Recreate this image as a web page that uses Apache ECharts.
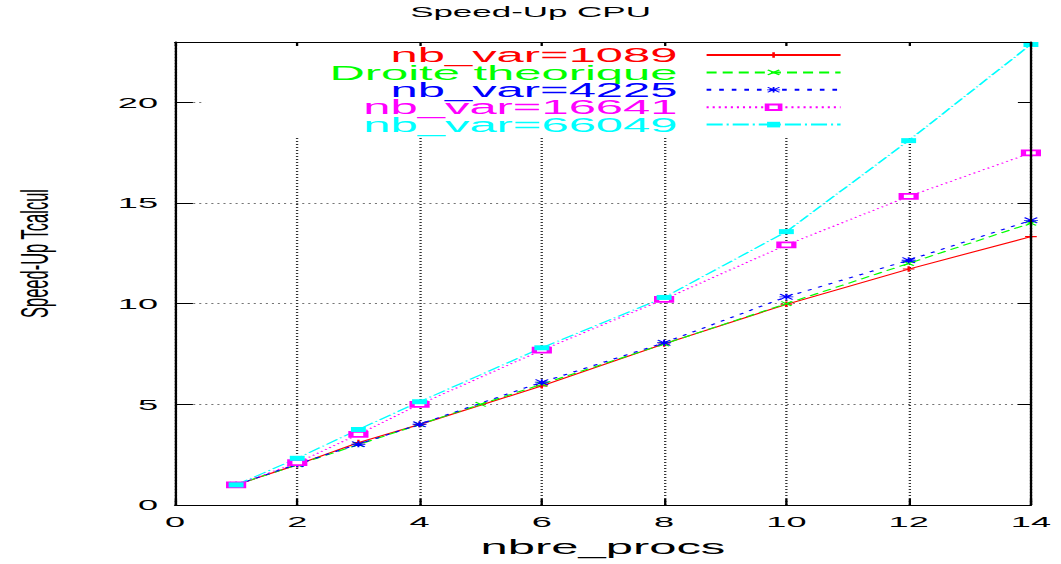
<!DOCTYPE html>
<html>
<head>
<meta charset="utf-8">
<title>Speed-Up CPU</title>
<script src="https://cdn.jsdelivr.net/npm/echarts@6/dist/echarts.min.js"></script>
<style>
  html, body { margin: 0; padding: 0; background: #fff; overflow: hidden; }
  /* the plot is laid out narrow and widened, like the stretched gnuplot output */
  #chart { width: 455.36px; height: 564px; transform: scaleX(2.33); transform-origin: 0 0; }
</style>
</head>
<body>
<div id="chart"></div>
<script>
// processor counts measured
const procs = [1, 2, 3, 4, 6, 8, 10, 12, 14];
// points of the ideal (linear) speed-up line
const idealProcs = [1, 2, 3, 4, 5, 6, 8, 10, 12, 14];
const idealSpeedUp = [1, 2, 3, 4, 5, 6, 8, 10, 12, 14];
// measured speed-up per problem size
const speedUp1089  = [1, 2.0, 3.1, 4.0, 5.92, 8.0, 9.97, 11.72, 13.33];
const speedUp4225  = [1, 2.03, 3.02, 4.01, 6.1, 8.06, 10.34, 12.16, 14.14];
const speedUp16641 = [1, 2.1, 3.51, 5.0, 7.69, 10.22, 12.92, 15.33, 17.49];
const speedUp66049 = [1, 2.32, 3.75, 5.13, 7.81, 10.31, 13.58, 18.1, 22.88];
const seriesNames = ['nb_var=1089', 'Droite theorique', 'nb_var=4225', 'nb_var=16641', 'nb_var=66049'];
const xTicks = [0, 2, 4, 6, 8, 10, 12, 14];
const yTicks = [0, 5, 10, 15, 20];

const FONT = 'Liberation Sans, Arial, Helvetica, sans-serif';
const colors = ['#ff0000', '#00ff00', '#0000ff', '#ff00ff', '#00ffff'];

// gnuplot-like point glyphs
const PLUS = 'path://M0,4H10V6H0Z M4,0H6V10H4Z';
const CROSS = 'path://M0,1.2L1.2,0L10,8.8L8.8,10Z M8.8,0L10,1.2L1.2,10L0,8.8Z';
const STAR = 'path://M0,4.3H10V5.7H0Z M4.3,0H5.7V10H4.3Z M0,1L1,0L10,9L9,10Z M9,0L10,1L1,10L0,9Z';

function pairs(xs, ys) { return xs.map((x, i) => [x, ys[i]]); }

const chart = echarts.init(document.getElementById('chart'), null, { renderer: 'svg', width: 455.36, height: 564 });

chart.setOption({
  animation: false,
  backgroundColor: '#ffffff',
  title: {
    text: 'Speed-Up CPU',
    left: 'center',
    top: 4,
    padding: 0,
    textStyle: { fontFamily: FONT, fontSize: 15, fontWeight: 'normal', color: '#000' }
  },
  legend: {
    orient: 'vertical',
    align: 'right',
    right: 93.6,
    top: 44.5,
    padding: 0,
    itemWidth: 57.5,
    itemHeight: 7,
    itemGap: -3.6,
    selectedMode: false,
    textStyle: { fontFamily: FONT, fontSize: 21, padding: [0, 7.5, 0, 0] },
    data: seriesNames.map((n, i) => ({ name: n, textStyle: { color: colors[i] } }))
  },
  grid: { left: 75.1, right: 12.9, top: 42, bottom: 59, outerBoundsMode: 'none' },
  graphic: [{
    // opaque key area
    type: 'rect',
    z: 1,
    shape: { x: 88, y: 43, width: 354.5, height: 93 },
    style: { fill: '#ffffff' },
    silent: true
  }],
  xAxis: [{
    type: 'value',
    min: xTicks[0],
    max: xTicks[xTicks.length - 1],
    interval: 2,
    name: 'nbre_procs',
    nameLocation: 'middle',
    nameGap: 31,
    nameTextStyle: { fontFamily: FONT, fontSize: 21, color: '#000' },
    axisLine: { show: true, onZero: false, lineStyle: { color: '#000', width: 1 } },
    axisTick: { show: true, inside: true, length: 6, lineStyle: { color: '#000' } },
    axisLabel: { margin: 9, fontFamily: FONT, fontSize: 15.5, color: '#000' },
    splitLine: { show: true, lineStyle: { color: '#333', type: [1, 2], width: 1 } }
  }, {
    type: 'value',
    position: 'top',
    min: xTicks[0],
    max: xTicks[xTicks.length - 1],
    interval: 2,
    z: 5,
    axisLine: { show: true, onZero: false, lineStyle: { color: '#000', width: 1 } },
    axisTick: { show: true, inside: true, length: 4, lineStyle: { color: '#000' } },
    axisLabel: { show: false },
    splitLine: { show: false }
  }],
  yAxis: [{
    type: 'value',
    min: 0,
    max: 23,
    interval: 5,
    name: 'Speed-Up Tcalcul',
    nameLocation: 'middle',
    nameGap: 52,
    nameTextStyle: { fontFamily: FONT, fontSize: 16.5, color: '#000', padding: [0, 0, 0, 40] },
    axisLine: { show: true, onZero: false, lineStyle: { color: '#000', width: 1 } },
    axisTick: { show: true, inside: true, length: 7.7, lineStyle: { color: '#000' } },
    axisLabel: {
      margin: 7.3, fontFamily: FONT, fontSize: 15.5, color: '#000', showMaxLabel: false,
      formatter: v => (yTicks.indexOf(v) >= 0 ? String(v) : '')
    },
    splitLine: { show: true, lineStyle: { color: '#777', type: [0.9, 1.7], width: 1 } }
  }, {
    type: 'value',
    position: 'right',
    min: 0,
    max: 23,
    interval: 5,
    z: 5,
    axisLine: { show: true, onZero: false, lineStyle: { color: '#000', width: 1 } },
    axisTick: { show: true, inside: true, length: 5.6, lineStyle: { color: '#000' } },
    axisLabel: { show: false },
    splitLine: { show: false }
  }],
  series: [{
    name: seriesNames[0],
    type: 'line',
    data: pairs(procs, speedUp1089),
    symbol: PLUS,
    symbolSize: [5, 5.5],
    showAllSymbol: true,
    itemStyle: { color: colors[0] },
    lineStyle: { color: colors[0], width: 1, type: 'solid' }
  }, {
    name: seriesNames[1],
    type: 'line',
    data: pairs(idealProcs, idealSpeedUp),
    symbol: CROSS,
    symbolSize: [5, 5],
    showAllSymbol: true,
    itemStyle: { color: colors[1] },
    lineStyle: { color: colors[1], width: 1, type: [4.3, 2.6] }
  }, {
    name: seriesNames[2],
    type: 'line',
    data: pairs(procs, speedUp4225),
    symbol: STAR,
    symbolSize: [6, 6],
    showAllSymbol: true,
    itemStyle: { color: colors[2] },
    lineStyle: { color: colors[2], width: 1, type: [2, 3.4] }
  }, {
    name: seriesNames[3],
    type: 'line',
    data: pairs(procs, speedUp16641),
    symbol: 'emptyRect',
    symbolSize: [6.4, 5],
    showAllSymbol: true,
    itemStyle: { color: colors[3], borderColor: colors[3], borderWidth: 1 },
    lineStyle: { color: colors[3], width: 1, type: [0.9, 1.7] }
  }, {
    name: seriesNames[4],
    type: 'line',
    data: pairs(procs, speedUp66049),
    symbol: 'rect',
    symbolSize: [6.4, 5],
    showAllSymbol: true,
    itemStyle: { color: colors[4] },
    lineStyle: { color: colors[4], width: 1, type: [6.9, 1.7, 0.9, 1.7] }
  }]
});
</script>
</body>
</html>
